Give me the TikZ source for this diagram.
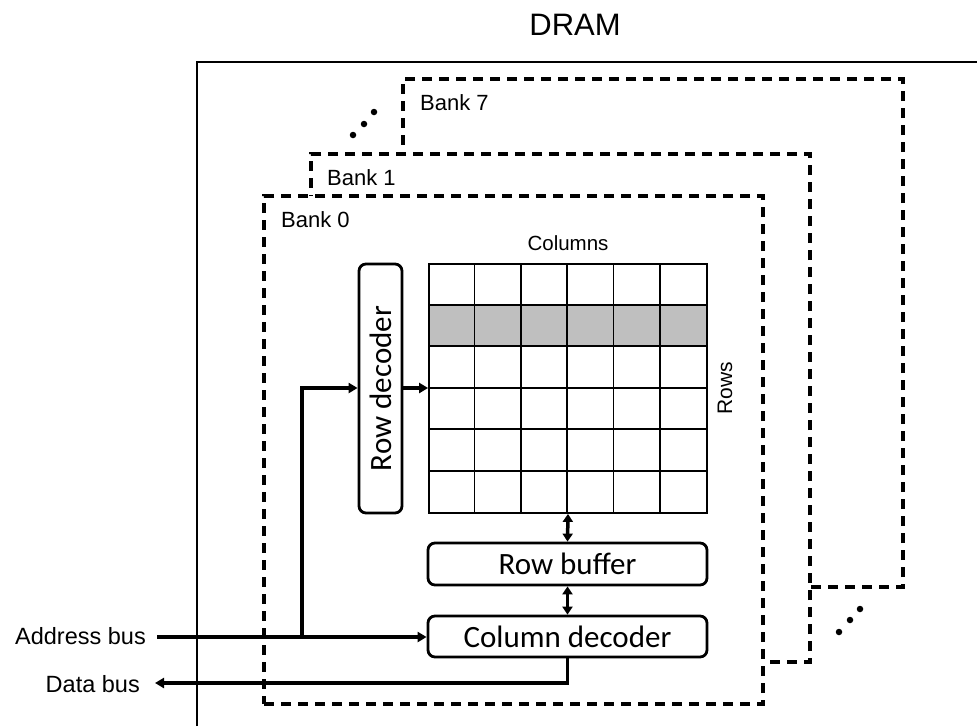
\documentclass[tikz,border=0pt]{standalone}
\usepackage{fontspec}
\setmainfont{Liberation Sans}
\newfontfamily\calfont{Carlito}
\usetikzlibrary{arrows.meta,calc}
\begin{document}
\begin{tikzpicture}[x=1pt,y=-1pt,
  bankbox/.style={draw,fill=white,line width=3.5pt,dash pattern=on 10pt off 7pt},
  blockbox/.style={draw,line width=2.8pt,rounded corners=7pt,inner sep=0pt,font=\calfont\fontsize{31}{32}\selectfont},
  lbl/.style={font=\fontsize{22}{24}\selectfont,inner sep=0pt},
  buslbl/.style={font=\fontsize{23.5}{25}\selectfont,inner sep=0pt},
  wire/.style={line width=3.5pt,-{Triangle[length=9pt,width=10pt]}},
  dwire/.style={line width=3.5pt,{Triangle[length=8pt,width=10pt]}-{Triangle[length=8pt,width=10pt]}},
  dot/.style={circle,fill=black,inner sep=0pt,minimum size=6.5pt}]
\useasboundingbox (0,0) rectangle (977,726);
% title and outer DRAM frame
\node[font=\fontsize{31}{33}\selectfont,inner sep=0pt] (dram) at (575,25) {DRAM};
\draw[line width=2.5pt] (197,726) -- (197,62) -- (977,62);
% banks
\node[bankbox,minimum width=500pt,minimum height=508pt] (bank7) at (653,333) {};
\node[bankbox,minimum width=499pt,minimum height=508pt] (bank1) at (560.5,408) {};
\node[bankbox,minimum width=499pt,minimum height=508pt] (bank0) at (513.5,450) {};
\node[lbl,anchor=west] (b7) at (420,103) {Bank 7};
\node[lbl,anchor=west] (b1) at (327,178) {Bank 1};
\node[lbl,anchor=west] (b0) at (281,220) {Bank 0};
% ellipsis dots
\node[dot] (d1) at (353,135) {};
\node[dot] (d2) at (364,124) {};
\node[dot] (d3) at (374,112) {};
\node[dot] (d4) at (839,632) {};
\node[dot] (d5) at (850,620) {};
\node[dot] (d6) at (860,609) {};
% cell array
\fill[black!25] (429,305.5) rectangle (707,347);
\node[draw,line width=1.8pt,minimum width=278pt,minimum height=249pt,inner sep=0pt] (array) at (568,388.5) {};
\foreach \i in {1,...,5} {
  \draw[line width=1.8pt] ($(array.north west)+(\i*46.333,0)$) -- ($(array.south west)+(\i*46.333,0)$);
  \draw[line width=1.8pt] ($(array.north west)+(0,\i*41.5)$) -- ($(array.north east)+(0,\i*41.5)$);
}
\node[font=\fontsize{20.5}{22}\selectfont,inner sep=0pt] (cols) at (568,243) {Columns};
\node[font=\fontsize{21}{22}\selectfont,inner sep=0pt,rotate=90] (rows) at (725,388) {Rows};
% blocks
\node[blockbox,minimum width=43pt,minimum height=249pt] (rowdec) at (380.5,388.5) {\rotatebox{90}{Row decoder}};
\node[blockbox,minimum width=279pt,minimum height=42pt] (rowbuf) at (567.5,564) {Row buffer};
\node[blockbox,minimum width=279pt,minimum height=41pt] (coldec) at (567.5,636.5) {Column decoder};
% bus labels
\node[buslbl,anchor=east] (abus) at (146,636) {Address bus};
\node[buslbl,anchor=east] (dbus) at (140,684) {Data bus};
\coordinate (astart) at (157,637);
\coordinate (junc) at (302,637);
\coordinate (dend) at (155,683);
% connectors
\draw[wire] (astart) -- (coldec.west |- astart);
\draw[wire] (junc) |- (rowdec.west |- 0,388);
\draw[wire] (rowdec.east |- 0,388) -- (array.west |- 0,388);
\draw[wire] (coldec.south) |- (dend);
\draw[dwire] (array.south) -- (rowbuf.north);
\draw[dwire] (rowbuf.south) -- (coldec.north);
\end{tikzpicture}
\end{document}
